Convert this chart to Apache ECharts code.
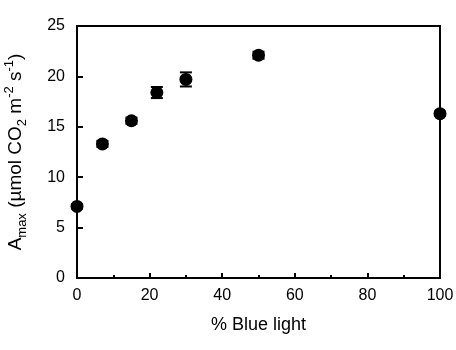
<!DOCTYPE html>
<html>
<head>
<meta charset="utf-8">
<script src="https://cdn.jsdelivr.net/npm/echarts@6/dist/echarts.min.js"></script>
<style>html,body{margin:0;padding:0;background:#fff;}#c{width:456px;height:350px;}</style>
</head>
<body>
<div id="c"></div>
<script>
var blueLight = [0, 7, 15, 22, 30, 50, 100];
var amax = [7.1, 13.3, 15.6, 18.4, 19.7, 22.1, 16.3];
var amaxErr = [0.2, 0.3, 0.3, 0.55, 0.7, 0.35, 0.2];
var xTicks = [0, 20, 40, 60, 80, 100];
var yTicks = [0, 5, 10, 15, 20, 25];

var font = 'Liberation Sans, Arial, sans-serif';
var points = blueLight.map(function (x, i) { return [x, amax[i]]; });
var errs = blueLight.map(function (x, i) { return [x, amax[i] - amaxErr[i], amax[i] + amaxErr[i]]; });

var chart = echarts.init(document.getElementById('c'), null, {renderer: 'canvas'});
chart.setOption({
  animation: false,
  backgroundColor: '#fff',
  grid: {left: 77, right: 16, top: 26, bottom: 72, outerBoundsMode: 'none', containLabel: false,
         show: true, borderColor: '#000', borderWidth: 2, backgroundColor: 'transparent'},
  xAxis: {
    type: 'value', min: xTicks[0], max: xTicks[xTicks.length - 1], interval: 20,
    name: '% Blue light', nameLocation: 'middle', nameGap: 38,
    nameTextStyle: {fontFamily: font, fontSize: 18, color: '#000'},
    axisLine: {show: true, lineStyle: {color: '#000', width: 2}},
    axisTick: {show: true, inside: true, length: 5, lineStyle: {color: '#000', width: 2}},
    minorTick: {show: true, splitNumber: 2, length: 3, lineStyle: {color: '#000', width: 2}},
    axisLabel: {fontFamily: font, fontSize: 16, color: '#000', margin: 10},
    splitLine: {show: false}
  },
  yAxis: {
    type: 'value', min: yTicks[0], max: yTicks[yTicks.length - 1], interval: 5,
    name: '{a|A}{sub|max}{a| (µmol CO}{sub|2}{a| m}{sup|-2}{a| s}{sup|-1}{a|)}',
    nameLocation: 'middle', nameGap: 48, nameRotate: 90,
    nameTextStyle: {
      fontFamily: font, fontSize: 19, color: '#000',
      rich: {
        a: {fontFamily: font, fontSize: 19, color: '#000', lineHeight: 26, verticalAlign: 'middle'},
        sub: {fontFamily: font, fontSize: 13, color: '#000', lineHeight: 26, verticalAlign: 'bottom'},
        sup: {fontFamily: font, fontSize: 13, color: '#000', lineHeight: 26, verticalAlign: 'top'}
      }
    },
    axisLine: {show: true, lineStyle: {color: '#000', width: 2}},
    axisTick: {show: true, inside: true, length: 6, lineStyle: {color: '#000', width: 2}},
    axisLabel: {fontFamily: font, fontSize: 16, color: '#000', margin: 12},
    splitLine: {show: false}
  },
  series: [
    {
      type: 'custom',
      data: errs,
      z: 1,
      clip: false,
      renderItem: function (params, api) {
        var x = api.value(0);
        var lo = api.coord([x, api.value(1)]);
        var hi = api.coord([x, api.value(2)]);
        var w = 6;
        var st = {stroke: '#000', lineWidth: 2};
        return {
          type: 'group',
          children: [
            {type: 'line', shape: {x1: lo[0], y1: lo[1], x2: hi[0], y2: hi[1]}, style: st},
            {type: 'line', shape: {x1: lo[0] - w, y1: lo[1], x2: lo[0] + w, y2: lo[1]}, style: st},
            {type: 'line', shape: {x1: hi[0] - w, y1: hi[1], x2: hi[0] + w, y2: hi[1]}, style: st}
          ]
        };
      }
    },
    {
      type: 'scatter',
      data: points,
      symbol: 'circle',
      symbolSize: 13,
      clip: false,
      z: 3,
      itemStyle: {color: '#000', opacity: 1}
    }
  ]
});
</script>
</body>
</html>
